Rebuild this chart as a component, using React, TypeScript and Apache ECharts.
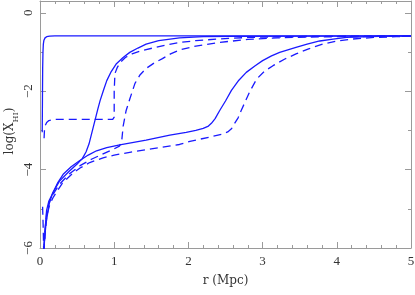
import React, { useEffect, useRef } from "react";
import * as echarts from "echarts";

const xTicks = [0, 1, 2, 3, 4, 5];
const yTicks = [-6, -4, -2, 0];

const solidA: [number, number][] = [[0.03,-3.05],[0.033,-2.2],[0.036,-1.4],[0.04,-1.0],[0.045,-0.8],[0.053,-0.7],[0.068,-0.64],[0.09,-0.61],[0.13,-0.597],[0.2,-0.592],[1,-0.59],[2,-0.59],[3,-0.59],[4,-0.59],[5,-0.59]];

const dashedA: [number, number][] = [[0.055,-3.2],[0.06,-3.0],[0.07,-2.88],[0.09,-2.8],[0.12,-2.75],[0.2,-2.72],[0.98,-2.72],[1.0,-2.66],[1.0,-2.0],[1.01,-1.55],[1.04,-1.4],[1.08,-1.27],[1.15,-1.14],[1.25,-1.04],[1.38,-0.96],[1.52,-0.9],[1.7,-0.82],[1.88,-0.76],[2.1,-0.71],[2.4,-0.67],[2.8,-0.63],[3.3,-0.61],[4,-0.6],[5,-0.59]];

const solidB: [number, number][] = [[0.05,-6.1],[0.06,-5.8],[0.08,-5.4],[0.12,-4.9],[0.17,-4.6],[0.26,-4.3],[0.39,-4.05],[0.5,-3.86],[0.57,-3.72],[0.62,-3.55],[0.66,-3.35],[0.7,-3.05],[0.74,-2.75],[0.78,-2.45],[0.81,-2.24],[0.86,-1.95],[0.9,-1.73],[0.96,-1.5],[1.03,-1.3],[1.12,-1.14],[1.21,-1.01],[1.32,-0.9],[1.43,-0.8],[1.6,-0.71],[1.88,-0.64],[2.2,-0.61],[2.6,-0.6],[5,-0.59]];

const solidC: [number, number][] = [[0.05,-6.1],[0.056,-5.97],[0.07,-5.5],[0.089,-5.04],[0.12,-4.8],[0.178,-4.58],[0.24,-4.33],[0.312,-4.12],[0.42,-3.93],[0.537,-3.77],[0.65,-3.63],[0.762,-3.52],[0.9,-3.44],[1.075,-3.37],[1.43,-3.25],[1.75,-3.12],[1.97,-3.05],[2.1,-3.0],[2.2,-2.95],[2.27,-2.89],[2.31,-2.82],[2.36,-2.7],[2.42,-2.5],[2.5,-2.25],[2.58,-1.98],[2.68,-1.72],[2.78,-1.52],[2.9,-1.35],[3.0,-1.22],[3.12,-1.1],[3.23,-1.01],[3.45,-0.88],[3.6,-0.8],[3.77,-0.72],[3.95,-0.67],[4.13,-0.63],[4.57,-0.6],[5,-0.59]];

const dashedB: [number, number][] = [[0.035,-4.95],[0.042,-5.4],[0.05,-6.1],[0.07,-5.5],[0.09,-5.1],[0.13,-4.8],[0.18,-4.62],[0.26,-4.38],[0.39,-4.12],[0.54,-3.9],[0.7,-3.73],[0.85,-3.6],[1.0,-3.47],[1.07,-3.4],[1.1,-3.3],[1.12,-2.9],[1.16,-2.5],[1.21,-2.2],[1.28,-1.8],[1.35,-1.58],[1.43,-1.42],[1.54,-1.28],[1.65,-1.17],[1.76,-1.05],[1.88,-0.95],[2.1,-0.85],[2.4,-0.76],[2.8,-0.68],[3.2,-0.64],[3.6,-0.62],[4.0,-0.61],[5,-0.6]];

const dashedC: [number, number][] = [[0.05,-6.1],[0.07,-5.6],[0.09,-5.2],[0.13,-4.9],[0.18,-4.7],[0.3,-4.35],[0.45,-4.08],[0.54,-3.96],[0.67,-3.82],[0.85,-3.7],[1.0,-3.63],[1.21,-3.56],[1.5,-3.47],[1.88,-3.36],[2.02,-3.28],[2.29,-3.17],[2.45,-3.1],[2.53,-3.04],[2.58,-2.96],[2.62,-2.83],[2.67,-2.68],[2.71,-2.5],[2.77,-2.25],[2.83,-2.0],[2.92,-1.69],[3.02,-1.5],[3.14,-1.35],[3.3,-1.18],[3.45,-1.05],[3.62,-0.92],[3.81,-0.8],[4.0,-0.72],[4.21,-0.67],[4.5,-0.63],[4.8,-0.61],[5,-0.6]];

const yName = "{a|log(X}{b|HI}{a|)}";
const xName = "r (Mpc)";

const BLUE = "#1a1aff";
const AXIS = "#9a9a9a";
const TEXT = "#333";
const FONT = "Liberation Serif";
const NAME_FONT = "DejaVu Serif";

export default function App() {
  const ref = useRef<HTMLDivElement>(null);
  useEffect(() => {
    if (!ref.current) return;
    const chart = echarts.init(ref.current, null, { renderer: "svg" });
    const baseX = {
      type: "value" as const,
      min: xTicks[0],
      max: xTicks[xTicks.length - 1],
      interval: 1,
      axisLine: { show: true, onZero: false, lineStyle: { color: AXIS, width: 1 } },
      axisTick: { show: true, inside: true, length: 6, lineStyle: { color: AXIS } },
      minorTick: { show: true, splitNumber: 5, length: 3, lineStyle: { color: AXIS } },
      splitLine: { show: false },
    };
    const baseY = {
      type: "value" as const,
      min: yTicks[0],
      max: 0.3,
      interval: 2,
      axisLine: { show: true, onZero: false, lineStyle: { color: AXIS, width: 1 } },
      axisTick: { show: true, inside: true, length: 6, lineStyle: { color: AXIS } },
      minorTick: { show: true, splitNumber: 2, length: 3, lineStyle: { color: AXIS } },
      splitLine: { show: false },
    };
    const mk = (data: [number, number][], dashed: boolean) => ({
      type: "line" as const,
      data,
      showSymbol: false,
      symbol: "none",
      clip: true,
      lineStyle: { color: BLUE, width: 1.3, type: dashed ? [8, 5] : "solid" },
    });
    chart.setOption({
      animation: false,
      grid: { left: 40, right: 4, top: 1, bottom: 47, containLabel: false, outerBoundsMode: "none" },
      xAxis: [
        {
          ...baseX,
          position: "bottom",
          axisLabel: { show: true, margin: 6, fontFamily: FONT, fontSize: 13, color: TEXT },
          name: xName,
          nameLocation: "middle",
          nameGap: 26,
          nameTextStyle: { fontFamily: NAME_FONT, fontSize: 12, color: TEXT },
        },
        { ...baseX, position: "top", axisLabel: { show: false } },
      ],
      yAxis: [
        {
          ...baseY,
          position: "left",
          axisLabel: {
            show: true,
            rotate: 90,
            margin: 6,
            fontFamily: FONT,
            fontSize: 13,
            color: TEXT,
            showMaxLabel: false,
            formatter: (v: number) =>
              yTicks.indexOf(v) < 0 ? "" : v < 0 ? "\u2212" + Math.abs(v) : String(v),
          },
        },
        { ...baseY, position: "right", axisLabel: { show: false } },
      ],
      graphic: [
        {
          type: "text",
          x: 11,
          y: 131,
          rotation: Math.PI / 2,
          style: {
            text: yName,
            align: "center",
            verticalAlign: "middle",
            fontFamily: NAME_FONT,
            fontSize: 12,
            fill: TEXT,
            rich: {
              a: { fontFamily: NAME_FONT, fontSize: 12, fill: TEXT, lineHeight: 16, verticalAlign: "top" },
              b: { fontFamily: NAME_FONT, fontSize: 8, fill: TEXT, lineHeight: 13, verticalAlign: "bottom" },
            },
          },
        },
      ],
      series: [
        mk(solidA, false),
        mk(dashedA, true),
        mk(solidB, false),
        mk(dashedB, true),
        mk(solidC, false),
        mk(dashedC, true),
      ],
    });
    return () => chart.dispose();
  }, []);
  return (
    <div
      ref={ref}
      style={{ position: "fixed", left: 0, top: 0, width: 415, height: 295 }}
    />
  );
}
